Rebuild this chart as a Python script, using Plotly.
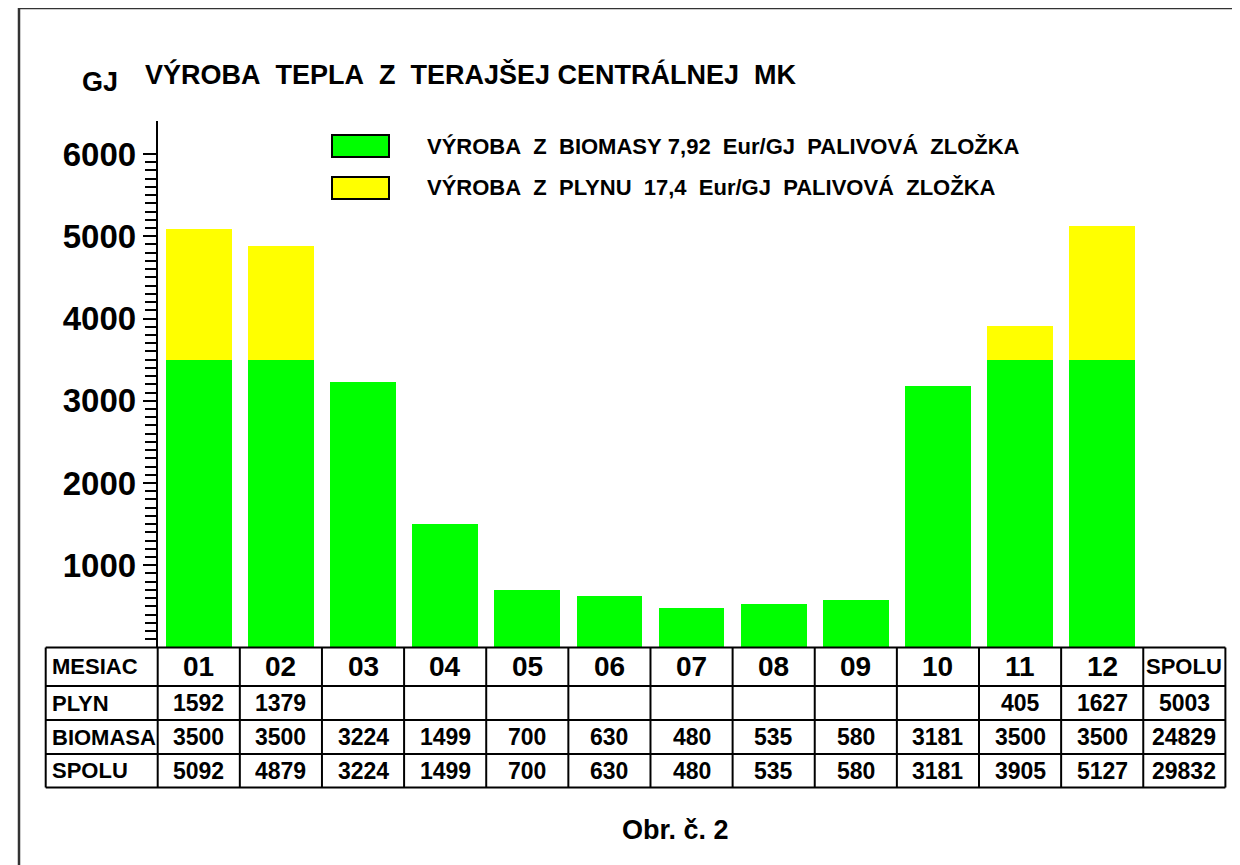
import plotly.graph_objects as go

# ---------------- data ----------------
months = ["01", "02", "03", "04", "05", "06", "07", "08", "09", "10", "11", "12"]
biomasa = [3500, 3500, 3224, 1499, 700, 630, 480, 535, 580, 3181, 3500, 3500]
plyn = [1592, 1379, None, None, None, None, None, None, None, None, 405, 1627]
spolu = [5092, 4879, 3224, 1499, 700, 630, 480, 535, 580, 3181, 3905, 5127]
total_plyn = 5003
total_biomasa = 24829
total_spolu = 29832
y_ticks = [1000, 2000, 3000, 4000, 5000, 6000]
row_labels = ["MESIAC", "PLYN", "BIOMASA", "SPOLU"]
total_label = "SPOLU"
title_text = "VÝROBA  TEPLA  Z  TERAJŠEJ CENTRÁLNEJ  MK"
unit_text = "GJ"
legend_bio = "VÝROBA  Z  BIOMASY 7,92  Eur/GJ  PALIVOVÁ  ZLOŽKA"
legend_gas = "VÝROBA  Z  PLYNU  17,4  Eur/GJ  PALIVOVÁ  ZLOŽKA"
caption = "Obr. č. 2"

GREEN = "#00FF00"
YELLOW = "#FFFF00"
FONT = "Liberation Sans"

# page body has an 8px margin; figure sized to fit the window exactly
OFF = 8
W, H = 1240 - OFF, 865 - OFF


def px(x):
    return (x - OFF) / W


def py(y):
    return 1 - (y - OFF) / H


def nb(s):
    return s.replace(" ", "\u00a0")


# layout geometry (reference-window pixels)
col_left = 157.7
col_w = 82.13
lab_left = 45.7
tot_right = col_left + 13 * col_w
zero_y = 647.5
y6000 = 154.0
ymax = 6400
px_per = (zero_y - y6000) / 6000
top_y = zero_y - ymax * px_per
row_lines = [647.5, 686.0, 720.0, 754.0, 787.5]
minor_vals = [v for v in range(100, 6000, 100) if v % 1000]

fig = go.Figure()
fig.add_trace(go.Bar(x=months, y=biomasa, marker=dict(color=GREEN, line=dict(width=0)),
                     width=0.8, name="biomasa", showlegend=False, hoverinfo="skip"))
fig.add_trace(go.Bar(x=months, y=plyn, marker=dict(color=YELLOW, line=dict(width=0)),
                     width=0.8, name="plyn", showlegend=False, hoverinfo="skip"))

fig.update_layout(
    width=W, height=H, barmode="stack",
    margin=dict(l=0, r=0, t=0, b=0),
    paper_bgcolor="white", plot_bgcolor="white",
    showlegend=False,
    font=dict(family=FONT, color="black"),
    xaxis=dict(domain=[px(col_left), px(col_left + 12 * col_w)], range=[-0.5, 11.5],
               type="category", showticklabels=False, ticks="", showline=False,
               showgrid=False, zeroline=False, fixedrange=True),
    yaxis=dict(domain=[py(zero_y), py(top_y)], range=[0, ymax],
               tickvals=y_ticks, ticktext=[str(v) for v in y_ticks],
               ticks="outside", ticklen=13, tickwidth=2, tickcolor="black",
               showline=True, linewidth=2, linecolor="black",
               showgrid=False, zeroline=False,
               tickfont=dict(family=FONT, size=33, weight="bold", color="black"),
               minor=dict(tickmode="array", tickvals=minor_vals, ticks="outside",
                          ticklen=11, tickwidth=2, tickcolor="black"),
               fixedrange=True),
)

shapes = []
# outer frame
shapes.append(dict(type="rect", xref="paper", yref="paper", x0=px(19), x1=px(1237.7),
                   y0=-0.05, y1=py(8), line=dict(color="#333333", width=2.5), layer="above"))
# table horizontal lines
for ry in row_lines:
    shapes.append(dict(type="line", xref="paper", yref="paper", x0=px(lab_left), x1=px(tot_right),
                       y0=py(ry), y1=py(ry), line=dict(color="black", width=2)))
# table vertical lines
vx = [lab_left] + [col_left + i * col_w for i in range(14)]
for x in vx:
    shapes.append(dict(type="line", xref="paper", yref="paper", x0=px(x), x1=px(x),
                       y0=py(row_lines[0]), y1=py(row_lines[-1]), line=dict(color="black", width=2)))
# legend boxes
shapes.append(dict(type="rect", xref="paper", yref="paper", x0=px(332), x1=px(389),
                   y0=py(157), y1=py(135), fillcolor=GREEN, line=dict(color="black", width=2)))
shapes.append(dict(type="rect", xref="paper", yref="paper", x0=px(332), x1=px(389),
                   y0=py(199), y1=py(177), fillcolor=YELLOW, line=dict(color="black", width=2)))

ann = []


def text(x, y, s, size, xanchor="center"):
    ann.append(dict(xref="paper", yref="paper", x=px(x), y=py(y), text=nb(s), showarrow=False,
                    xanchor=xanchor, yanchor="middle",
                    font=dict(family=FONT, size=size, weight="bold", color="black")))


text(80, 82, unit_text, 27, "left")
text(143, 74, title_text, 27, "left")
text(425, 147, legend_bio, 22, "left")
text(425, 188, legend_gas, 22, "left")
text(675, 830, caption, 27)

row_c = [(row_lines[i] + row_lines[i + 1]) / 2 for i in range(4)]
for i, lab in enumerate(row_labels):
    text(50, row_c[i], lab, 22, "left")
for i, m in enumerate(months):
    cx = col_left + (i + 0.5) * col_w
    text(cx, row_c[0], m, 28)
    if plyn[i] is not None:
        text(cx, row_c[1], str(plyn[i]), 23)
    text(cx, row_c[2], str(biomasa[i]), 23)
    text(cx, row_c[3], str(spolu[i]), 23)
cx = col_left + 12.5 * col_w
text(cx, row_c[0], total_label, 22)
text(cx, row_c[1], str(total_plyn), 23)
text(cx, row_c[2], str(total_biomasa), 23)
text(cx, row_c[3], str(total_spolu), 23)

fig.update_layout(shapes=shapes, annotations=ann)
fig.write_html("out.html", config={"displayModeBar": False})
